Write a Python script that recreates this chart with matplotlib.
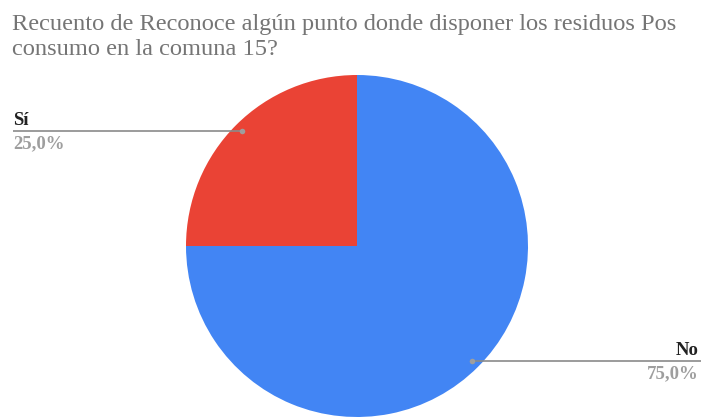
import numpy as np
import matplotlib.pyplot as plt

labels = ["No", "Sí"]
values = [75.0, 25.0]
pct_text = ["75,0%", "25,0%"]
colors = ["#4285F4", "#EA4335"]

title_lines = ["Recuento de Reconoce algún punto donde disponer los residuos Pos",
               "consumo en la comuna 15?"]

W, H = 701, 417
fig = plt.figure(figsize=(W / 100, H / 100), dpi=100)
ax = fig.add_axes([0, 0, 1, 1])

cx, cy, R = 357, H - 246, 171
ax.pie(values, colors=colors, startangle=90, counterclock=False,
       center=(cx, cy), radius=R, frame=True, wedgeprops=dict(linewidth=0))
ax.set_xlim(0, W)
ax.set_ylim(0, H)
ax.set_aspect("equal")
ax.axis("off")

serif = ["Liberation Serif", "DejaVu Serif"]
for i, line in enumerate(title_lines):
    ax.text(12, H - 30 - 25 * i, line, ha="left", va="baseline", fontsize=17.6,
            color="#757575", family=serif)

# leader lines: dot inside the slice, line out to the label at the edge
start = 90
for lab, v, pct in zip(labels, values, pct_text):
    mid = start - v / 100 * 360 / 2
    start -= v / 100 * 360
    a = np.deg2rad(mid)
    dx, dy = cx + 0.95 * R * np.cos(a), cy + 0.95 * R * np.sin(a)
    if np.cos(a) >= 0:
        x_end, tx, ha = W, W - 2, "right"
    else:
        x_end, tx, ha = 13, 13, "left"
    ax.plot([dx, x_end], [dy, dy], color="#8a8a8a", lw=1.2, solid_capstyle="butt")
    ax.plot(dx, dy, "o", ms=4, color="#9e9e9e", mec="none")
    ax.text(tx, dy + 6, lab, ha=ha, va="baseline", fontsize=13.5, fontweight="bold",
            color="#222222", family=serif)
    ax.text(tx, dy - 17, pct, ha=ha, va="baseline", fontsize=13.5, fontweight="bold",
            color="#9e9e9e", family=serif)

fig.savefig("out.png", dpi=100)
